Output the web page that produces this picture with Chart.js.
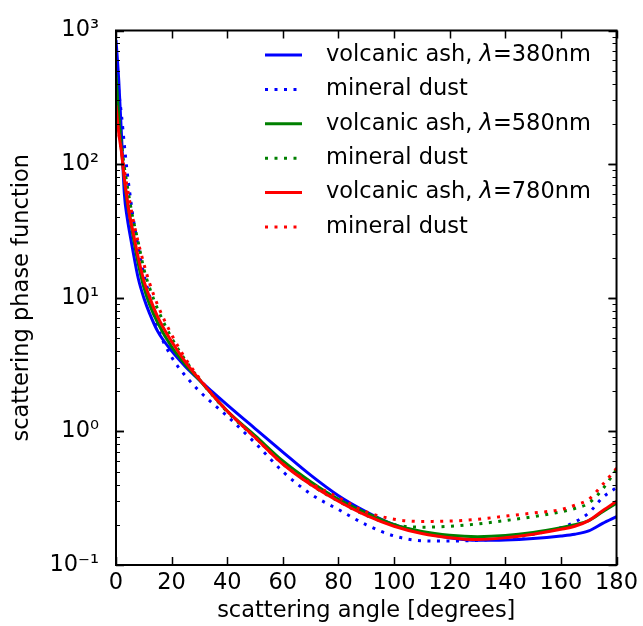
<!DOCTYPE html>
<html>
<head>
<meta charset="utf-8">
<script src="https://cdn.jsdelivr.net/npm/chart.js@4.4.0/dist/chart.umd.min.js"></script>
<style>
  html, body { margin: 0; padding: 0; background: #fff; }
  #wrap { width: 643px; height: 626px; }
</style>
</head>
<body>
<div id="wrap"><canvas id="chart" width="643" height="626"></canvas></div>
<script>
// scattering angle [degrees]
const angles = [0, 1, 2, 3, 4, 5, 6, 8, 10, 12, 15, 20, 25, 30, 35, 40, 50, 60, 70, 80, 90, 100, 110, 120, 130, 140, 150, 160, 165, 170, 175, 180];

// phase function values
const ash380  = [850, 420, 160, 60, 40, 30, 23, 14, 10, 7.7, 5.6, 4.0, 3.05, 2.42, 1.95, 1.58, 1.05, 0.70, 0.47, 0.33, 0.25, 0.20, 0.175, 0.16, 0.153, 0.154, 0.158, 0.165, 0.17, 0.18, 0.205, 0.23];
const dust380 = [600, 350, 230, 140, 88, 60, 42, 24, 15, 10.5, 6.0, 3.6, 2.6, 2.0, 1.6, 1.3, 0.82, 0.5, 0.34, 0.26, 0.2, 0.165, 0.152, 0.151, 0.153, 0.158, 0.17, 0.19, 0.21, 0.245, 0.32, 0.38];
const ash580  = [470, 220, 125, 78, 52, 40, 30, 18, 12, 9, 6.5, 4.3, 3.15, 2.42, 1.85, 1.42, 0.93, 0.60, 0.42, 0.31, 0.245, 0.20, 0.178, 0.167, 0.163, 0.166, 0.175, 0.19, 0.2, 0.215, 0.25, 0.29];
const dust580 = [350, 220, 140, 95, 70, 52, 40, 26, 16.5, 12, 8.2, 5.0, 3.4, 2.45, 1.83, 1.4, 0.9, 0.58, 0.40, 0.30, 0.235, 0.20, 0.192, 0.195, 0.203, 0.215, 0.23, 0.25, 0.265, 0.29, 0.37, 0.52];
const ash780  = [275, 170, 122, 78, 55, 40, 32, 20, 13.5, 10.2, 7.2, 4.7, 3.3, 2.45, 1.85, 1.42, 0.90, 0.57, 0.40, 0.30, 0.235, 0.195, 0.172, 0.16, 0.155, 0.16, 0.17, 0.185, 0.195, 0.215, 0.255, 0.30];
const dust780 = [230, 170, 125, 90, 68, 52, 40, 26, 18, 13, 8.8, 5.3, 3.5, 2.5, 1.85, 1.42, 0.9, 0.57, 0.41, 0.32, 0.25, 0.22, 0.212, 0.213, 0.22, 0.232, 0.245, 0.26, 0.28, 0.31, 0.40, 0.53];

const seriesLabels = ['volcanic ash, λ=380nm', 'mineral dust', 'volcanic ash, λ=580nm', 'mineral dust', 'volcanic ash, λ=780nm', 'mineral dust'];
const seriesColors = ['#0000ff', '#0000ff', '#008000', '#008000', '#ff0000', '#ff0000'];
const seriesValues = [ash380, dust380, ash580, dust580, ash780, dust780];

const xTicks = [0, 20, 40, 60, 80, 100, 120, 140, 160, 180];
const yTicks = [0.1, 1, 10, 100, 1000];
const yTickLabels = ['10⁻¹', '10⁰', '10¹', '10²', '10³'];

const FONT = "'DejaVu Sans', sans-serif";
const FS = 22.5;
Chart.defaults.font.family = FONT;
Chart.defaults.font.size = FS;
Chart.defaults.color = '#000';

const datasets = seriesValues.map((vals, i) => ({
    label: seriesLabels[i],
    data: angles.map((a, j) => ({ x: a, y: vals[j] })),
    borderColor: seriesColors[i],
    borderWidth: 3,
    borderDash: i % 2 ? [3, 6.5] : [],
    pointRadius: 0,
    fill: false,
    cubicInterpolationMode: 'monotone',
    order: 6 - i // later series drawn on top
}));

// box, inward ticks and legend in matplotlib style
const frame = {
    id: 'frame',
    afterDatasetsDraw(chart) {
        const { ctx, chartArea: a, scales: { x, y } } = chart;
        ctx.save();
        ctx.strokeStyle = '#000';

        // major ticks on x, top and bottom
        ctx.lineWidth = 1.5;
        xTicks.forEach(v => {
            const px = Math.round(x.getPixelForValue(v)) + 0.5;
            ctx.beginPath();
            ctx.moveTo(px, a.bottom); ctx.lineTo(px, a.bottom - 8);
            ctx.moveTo(px, a.top); ctx.lineTo(px, a.top + 8);
            ctx.stroke();
        });
        // y ticks, major and minor, left and right
        for (let e = -1; e < 3; e++) {
            for (let m = 1; m <= 10; m++) {
                const v = m * Math.pow(10, e);
                const py = Math.round(y.getPixelForValue(v)) + 0.5;
                const len = (m === 1 || m === 10) ? 8 : 4;
                ctx.lineWidth = len === 8 ? 1.5 : 1;
                ctx.beginPath();
                ctx.moveTo(a.left, py); ctx.lineTo(a.left + len, py);
                ctx.moveTo(a.right, py); ctx.lineTo(a.right - len, py);
                ctx.stroke();
            }
        }
        ctx.lineWidth = 2;
        ctx.strokeRect(a.left, a.top, a.right - a.left, a.bottom - a.top);

        // legend
        const rowY = 55, rowGap = 34.4, lineX0 = 265, lineX1 = 302, textX = 326;
        ctx.textBaseline = 'middle';
        chart.data.datasets.forEach((ds, i) => {
            const yy = rowY + i * rowGap;
            ctx.strokeStyle = ds.borderColor;
            ctx.lineWidth = ds.borderWidth;
            ctx.setLineDash(ds.borderDash);
            ctx.beginPath();
            ctx.moveTo(lineX0, yy); ctx.lineTo(lineX1, yy);
            ctx.stroke();
            ctx.setLineDash([]);

            ctx.fillStyle = '#000';
            const parts = ds.label.split('λ');
            let tx = textX;
            parts.forEach((p, k) => {
                if (k > 0) {
                    ctx.font = `italic ${FS}px ${FONT}`;
                    ctx.fillText('λ', tx, yy);
                    tx += ctx.measureText('λ').width;
                }
                ctx.font = `${FS}px ${FONT}`;
                ctx.fillText(p, tx, yy);
                tx += ctx.measureText(p).width;
            });
        });
        ctx.restore();
    }
};

new Chart(document.getElementById('chart'), {
    type: 'line',
    data: { datasets },
    options: {
        responsive: false,
        animation: false,
        devicePixelRatio: 1,
        layout: { padding: { left: 0, right: 26, top: 27, bottom: 0 } },
        plugins: { legend: { display: false }, tooltip: { enabled: false } },
        scales: {
            x: {
                type: 'linear',
                min: 0, max: 180,
                grid: { display: false, drawTicks: false },
                border: { display: false },
                afterBuildTicks: s => { s.ticks = xTicks.map(v => ({ value: v })); },
                afterFit: s => { s.height = 61; },
                ticks: { padding: 5, maxRotation: 0, autoSkip: false },
                title: { display: true, text: 'scattering angle [degrees]', padding: { top: 0, bottom: 1.5 } }
            },
            y: {
                type: 'logarithmic',
                min: 0.1, max: 1000,
                grid: { display: false, drawTicks: false },
                border: { display: false },
                afterBuildTicks: s => { s.ticks = yTicks.map(v => ({ value: v })); },
                afterFit: s => { s.width = 116; },
                ticks: {
                    padding: 17,
                    autoSkip: false,
                    callback: v => yTickLabels[yTicks.indexOf(v)]
                },
                title: { display: true, text: 'scattering phase function', padding: { top: 8.5, bottom: 0 } }
            }
        }
    },
    plugins: [frame]
});
</script>
</body>
</html>
